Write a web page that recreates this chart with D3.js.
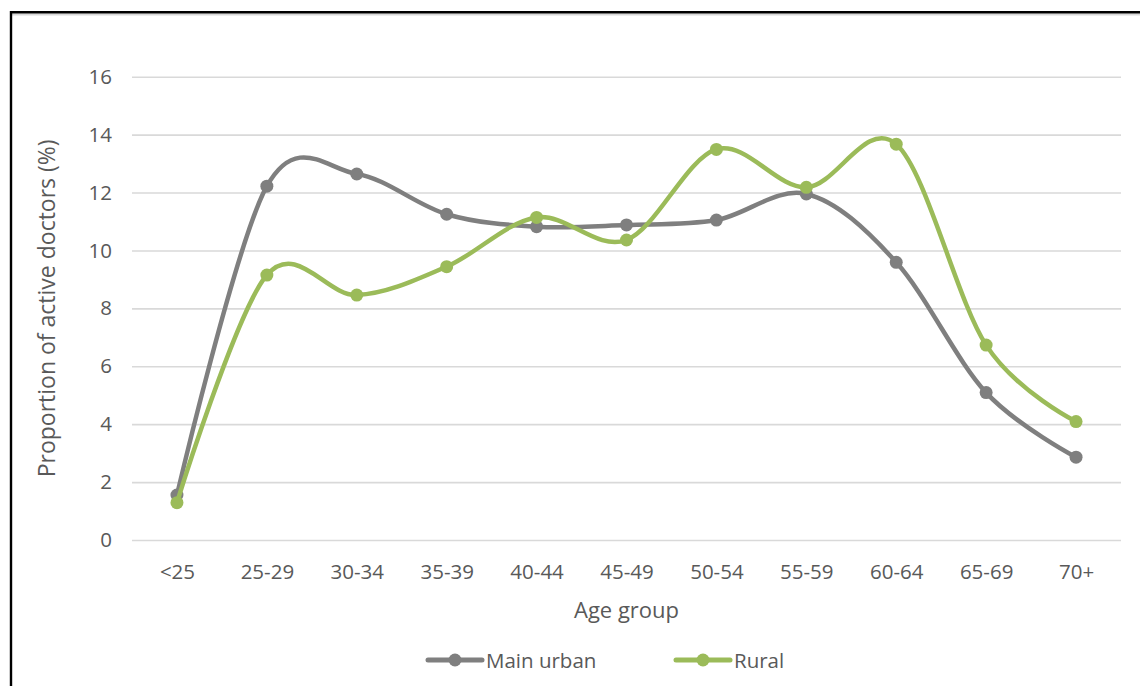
<!DOCTYPE html>
<html>
<head>
<meta charset="utf-8">
<script src="https://cdn.jsdelivr.net/npm/d3@7"></script>
<style>
  html, body { margin: 0; padding: 0; background: #fff; }
  svg { display: block; }
  text { font-family: "Open Sans", "Noto Sans", sans-serif; fill: #595959; }
</style>
</head>
<body>
<svg id="chart" width="1140" height="686"></svg>
<script>
// Age groups along the x axis
const ageGroups = ["<25", "25-29", "30-34", "35-39", "40-44", "45-49", "50-54", "55-59", "60-64", "65-69", "70+"];

// Share of active doctors in each age group (%)
const mainUrban = [1.55, 12.22, 12.64, 11.25, 10.82, 10.88, 11.05, 11.95, 9.59, 5.09, 2.86];
const rural     = [1.29, 9.15, 8.46, 9.44, 11.14, 10.36, 13.49, 12.18, 13.67, 6.73, 4.09];

// Y axis ticks
const yTicks = [0, 2, 4, 6, 8, 10, 12, 14, 16];

const seriesList = [
  { name: "Main urban", values: mainUrban, color: "#7f7f7f" },
  { name: "Rural",      values: rural,     color: "#9bbb59" }
];

const svg = d3.select("#chart");

// Frame edges (top and left)
svg.append("line").attr("x1", 11).attr("x2", 1140).attr("y1", 14.5).attr("y2", 14.5)
  .attr("stroke", "#d9d9d9").attr("stroke-width", 2);
svg.append("line").attr("x1", 11).attr("x2", 1140).attr("y1", 12.2).attr("y2", 12.2)
  .attr("stroke", "#000").attr("stroke-width", 2.4);
svg.append("line").attr("x1", 11).attr("x2", 11).attr("y1", 11).attr("y2", 686)
  .attr("stroke", "#000").attr("stroke-width", 2.4);

const plot = { left: 132, right: 1121, top: 76.7, bottom: 540 };

const x = d3.scalePoint()
  .domain(ageGroups)
  .range([plot.left, plot.right])
  .padding(0.5);

const y = d3.scaleLinear()
  .domain([0, 16])
  .range([plot.bottom, plot.top]);

// Horizontal gridlines and y labels
const yAxis = d3.axisLeft(y)
  .tickValues(yTicks)
  .tickSize(-(plot.right - plot.left))
  .tickPadding(20)
  .tickFormat(d3.format("d"));

const gy = svg.append("g")
  .attr("transform", `translate(${plot.left},0)`)
  .call(yAxis);
gy.select(".domain").remove();
gy.selectAll(".tick line").attr("stroke", "#d9d9d9").attr("stroke-width", 1.6);
gy.selectAll(".tick text")
  .attr("font-size", 20.5)
  .attr("fill", "#595959")
  .style("font-family", "'Open Sans', sans-serif");

// Category labels
const xAxis = d3.axisBottom(x).tickSize(0).tickPadding(0);
const gx = svg.append("g")
  .attr("transform", `translate(0,${plot.bottom + 24})`)
  .call(xAxis);
gx.select(".domain").remove();
gx.selectAll(".tick text")
  .attr("font-size", 20.5)
  .attr("fill", "#595959")
  .style("font-family", "'Open Sans', sans-serif");

// Axis titles
svg.append("text")
  .attr("x", (plot.left + plot.right) / 2)
  .attr("y", 609)
  .attr("text-anchor", "middle")
  .attr("dominant-baseline", "central")
  .attr("font-size", 22)
  .text("Age group");

svg.append("text")
  .attr("transform", `translate(46,${(plot.top + plot.bottom) / 2}) rotate(-90)`)
  .attr("text-anchor", "middle")
  .attr("dominant-baseline", "central")
  .attr("font-size", 23)
  .text("Proportion of active doctors (%)");

// Smoothed series lines with markers
const line = d3.line()
  .x((d, i) => x(ageGroups[i]))
  .y(d => y(d))
  .curve(d3.curveCardinal.tension(0));

seriesList.forEach(s => {
  svg.append("path")
    .datum(s.values)
    .attr("fill", "none")
    .attr("stroke", s.color)
    .attr("stroke-width", 4.5)
    .attr("stroke-linejoin", "round")
    .attr("stroke-linecap", "round")
    .attr("d", line);

  svg.append("g")
    .selectAll("circle")
    .data(s.values)
    .join("circle")
    .attr("cx", (d, i) => x(ageGroups[i]))
    .attr("cy", d => y(d))
    .attr("r", 6.5)
    .attr("fill", s.color);
});

// Legend
const legendItems = [
  { s: seriesList[0], x0: 428 },
  { s: seriesList[1], x0: 676 }
];
const legendY = 660;
legendItems.forEach(({ s, x0 }) => {
  const g = svg.append("g");
  g.append("line")
    .attr("x1", x0).attr("x2", x0 + 54)
    .attr("y1", legendY).attr("y2", legendY)
    .attr("stroke", s.color).attr("stroke-width", 5)
    .attr("stroke-linecap", "round");
  g.append("circle")
    .attr("cx", x0 + 27).attr("cy", legendY).attr("r", 6.5)
    .attr("fill", s.color);
  g.append("text")
    .attr("x", x0 + 58)
    .attr("y", legendY)
    .attr("dominant-baseline", "central")
    .attr("font-size", 20.5)
    .text(s.name);
});
</script>
</body>
</html>
